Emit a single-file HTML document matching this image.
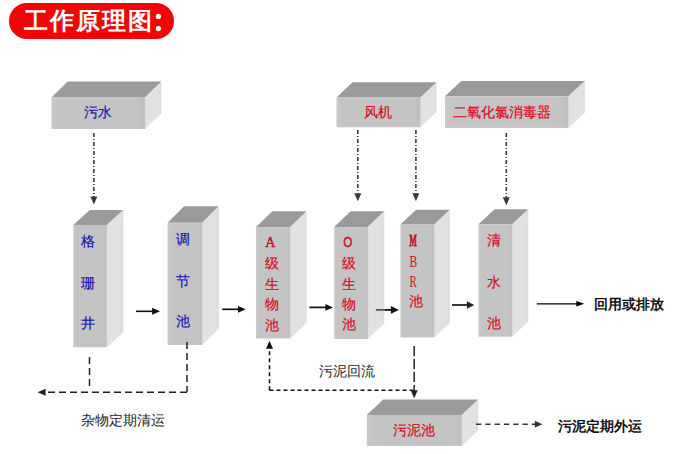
<!DOCTYPE html>
<html><head><meta charset="utf-8"><style>
html,body{margin:0;padding:0;background:#fff;}
body{width:685px;height:454px;overflow:hidden;position:relative;font-family:"Liberation Sans",sans-serif;}
.pill{position:absolute;left:9px;top:3px;width:165px;height:35.5px;border-radius:18px;background:#f00606;}
.pill span{position:absolute;left:14.5px;top:2.8px;font-size:23.5px;letter-spacing:2.1px;font-weight:bold;color:#fff;white-space:nowrap;line-height:30px;}
svg{position:absolute;left:0;top:0;}
</style></head><body>
<div class="pill"><span>工作原理图</span></div>
<svg width="685" height="454" viewBox="0 0 685 454">
<defs>
<linearGradient id="front" x1="0" x2="1" y1="0" y2="0">
<stop offset="0" stop-color="#c8c8c8"/><stop offset="0.1" stop-color="#c4c4c4"/><stop offset="0.9" stop-color="#c4c4c4"/><stop offset="1" stop-color="#bfbfbf"/>
</linearGradient>
<linearGradient id="side" x1="0" x2="1" y1="0" y2="0">
<stop offset="0" stop-color="#dcdcdc"/><stop offset="0.12" stop-color="#e2e2e2"/><stop offset="0.88" stop-color="#e0e0e0"/><stop offset="1" stop-color="#dcdcdc"/>
</linearGradient>
</defs>
<polygon points="51.4,97.4 67.8,81.6 161.4,81.6 145,97.4" fill="#9a9a9a"/>
<polygon points="145,97.4 161.4,81.6 161.4,113.2 145,129" fill="url(#side)"/>
<rect x="51.4" y="97.4" width="93.6" height="31.6" fill="url(#front)"/>
<polygon points="336.5,97.5 352.5,82.3 436.5,82.3 420.5,97.5" fill="#9a9a9a"/>
<polygon points="420.5,97.5 436.5,82.3 436.5,112 420.5,127.2" fill="url(#side)"/>
<rect x="336.5" y="97.5" width="84" height="29.7" fill="url(#front)"/>
<polygon points="445,96.3 461.3,81.1 584.8,81.1 568.5,96.3" fill="#9a9a9a"/>
<polygon points="568.5,96.3 584.8,81.1 584.8,112.7 568.5,127.9" fill="url(#side)"/>
<rect x="445" y="96.3" width="123.5" height="31.6" fill="url(#front)"/>
<polygon points="73.3,225 89.8,210 123.3,210 106.8,225" fill="#9a9a9a"/>
<polygon points="106.8,225 123.3,210 123.3,332.3 106.8,347.3" fill="url(#side)"/>
<rect x="73.3" y="225" width="33.5" height="122.3" fill="url(#front)"/>
<polygon points="167.6,222.8 184.1,206.3 218.8,206.3 202.3,222.8" fill="#9a9a9a"/>
<polygon points="202.3,222.8 218.8,206.3 218.8,328.5 202.3,345" fill="url(#side)"/>
<rect x="167.6" y="222.8" width="34.7" height="122.2" fill="url(#front)"/>
<polygon points="256.1,227.1 272.4,211.3 306.6,211.3 290.3,227.1" fill="#9a9a9a"/>
<polygon points="290.3,227.1 306.6,211.3 306.6,322.7 290.3,338.5" fill="url(#side)"/>
<rect x="256.1" y="227.1" width="34.2" height="111.4" fill="url(#front)"/>
<polygon points="334.2,227.1 350.6,211.3 384.3,211.3 367.9,227.1" fill="#9a9a9a"/>
<polygon points="367.9,227.1 384.3,211.3 384.3,323.2 367.9,339" fill="url(#side)"/>
<rect x="334.2" y="227.1" width="33.7" height="111.9" fill="url(#front)"/>
<polygon points="400.5,224.5 416,209.7 449.9,209.7 434.4,224.5" fill="#9a9a9a"/>
<polygon points="434.4,224.5 449.9,209.7 449.9,322.6 434.4,337.4" fill="url(#side)"/>
<rect x="400.5" y="224.5" width="33.9" height="112.9" fill="url(#front)"/>
<polygon points="478.5,224.3 494.5,209.2 528.3,209.2 512.3,224.3" fill="#9a9a9a"/>
<polygon points="512.3,224.3 528.3,209.2 528.3,321.6 512.3,336.7" fill="url(#side)"/>
<rect x="478.5" y="224.3" width="33.8" height="112.4" fill="url(#front)"/>
<polygon points="366.8,415 383.2,399.4 478.2,399.4 461.8,415" fill="#9a9a9a"/>
<polygon points="461.8,415 478.2,399.4 478.2,430.4 461.8,446" fill="url(#side)"/>
<rect x="366.8" y="415" width="95" height="31" fill="url(#front)"/>
<text x="84" y="117" fill="#1616b0" font-size="14" font-weight="normal" font-family='"Liberation Sans", sans-serif' stroke="#1616b0" stroke-width="0.2">污水</text>
<text x="364" y="117" fill="#d80c22" font-size="14" font-weight="normal" font-family='"Liberation Sans", sans-serif' stroke="#d80c22" stroke-width="0.2">风机</text>
<text x="453" y="117" fill="#d80c22" font-size="13.8" font-weight="normal" font-family='"Liberation Sans", sans-serif' stroke="#d80c22" stroke-width="0.2">二氧化氯消毒器</text>
<text x="81" y="245.5" fill="#1616b0" font-size="14" font-weight="normal" font-family='"Liberation Sans", sans-serif' stroke="#1616b0" stroke-width="0.2">格</text>
<text x="81" y="287.5" fill="#1616b0" font-size="14" font-weight="normal" font-family='"Liberation Sans", sans-serif' stroke="#1616b0" stroke-width="0.2">珊</text>
<text x="81" y="327.5" fill="#1616b0" font-size="14" font-weight="normal" font-family='"Liberation Sans", sans-serif' stroke="#1616b0" stroke-width="0.2">井</text>
<text x="176" y="244" fill="#1616b0" font-size="14" font-weight="normal" font-family='"Liberation Sans", sans-serif' stroke="#1616b0" stroke-width="0.2">调</text>
<text x="176" y="285.5" fill="#1616b0" font-size="14" font-weight="normal" font-family='"Liberation Sans", sans-serif' stroke="#1616b0" stroke-width="0.2">节</text>
<text x="176" y="325.5" fill="#1616b0" font-size="14" font-weight="normal" font-family='"Liberation Sans", sans-serif' stroke="#1616b0" stroke-width="0.2">池</text>
<text x="265" y="267.5" fill="#d80c22" font-size="14" font-weight="normal" font-family='"Liberation Sans", sans-serif' stroke="#d80c22" stroke-width="0.2">级</text>
<text x="265" y="289" fill="#d80c22" font-size="14" font-weight="normal" font-family='"Liberation Sans", sans-serif' stroke="#d80c22" stroke-width="0.2">生</text>
<text x="265" y="309" fill="#d80c22" font-size="14" font-weight="normal" font-family='"Liberation Sans", sans-serif' stroke="#d80c22" stroke-width="0.2">物</text>
<text x="265" y="329.5" fill="#d80c22" font-size="14" font-weight="normal" font-family='"Liberation Sans", sans-serif' stroke="#d80c22" stroke-width="0.2">池</text>
<text transform="translate(265.3,246.8) scale(0.95,1)" fill="#d80c22" font-size="15" font-weight="normal" font-family='"Liberation Serif", serif' stroke="#c01020" stroke-width="0.45">A</text>
<text x="342" y="267.5" fill="#d80c22" font-size="14" font-weight="normal" font-family='"Liberation Sans", sans-serif' stroke="#d80c22" stroke-width="0.2">级</text>
<text x="342" y="289" fill="#d80c22" font-size="14" font-weight="normal" font-family='"Liberation Sans", sans-serif' stroke="#d80c22" stroke-width="0.2">生</text>
<text x="342" y="308.5" fill="#d80c22" font-size="14" font-weight="normal" font-family='"Liberation Sans", sans-serif' stroke="#d80c22" stroke-width="0.2">物</text>
<text x="342" y="328.5" fill="#d80c22" font-size="14" font-weight="normal" font-family='"Liberation Sans", sans-serif' stroke="#d80c22" stroke-width="0.2">池</text>
<text transform="translate(343.2,246.8) scale(0.85,1)" fill="#d80c22" font-size="13.8" font-weight="normal" font-family='"Liberation Sans", sans-serif' stroke="#b01020" stroke-width="0.35">O</text>
<text x="409" y="306" fill="#d80c22" font-size="14" font-weight="normal" font-family='"Liberation Sans", sans-serif' stroke="#d80c22" stroke-width="0.2">池</text>
<text transform="translate(409.6,246.4) scale(0.47,1)" fill="#d80c22" font-size="16.5" font-weight="bold" font-family='"Liberation Serif", serif' stroke="#c01020" stroke-width="0.8">M</text>
<text transform="translate(409.6,266.9) scale(0.7,1)" fill="#d80c22" font-size="16.5" font-weight="normal" font-family='"Liberation Serif", serif'>B</text>
<text transform="translate(409.6,287.4) scale(0.66,1)" fill="#d80c22" font-size="16.5" font-weight="normal" font-family='"Liberation Serif", serif'>R</text>
<text x="487" y="245" fill="#d80c22" font-size="14" font-weight="normal" font-family='"Liberation Sans", sans-serif' stroke="#d80c22" stroke-width="0.2">清</text>
<text x="487" y="286.5" fill="#d80c22" font-size="14" font-weight="normal" font-family='"Liberation Sans", sans-serif' stroke="#d80c22" stroke-width="0.2">水</text>
<text x="487" y="327.5" fill="#d80c22" font-size="14" font-weight="normal" font-family='"Liberation Sans", sans-serif' stroke="#d80c22" stroke-width="0.2">池</text>
<line x1="136" y1="311.3" x2="153.1" y2="311.3" stroke="#111" stroke-width="1.6"/><polygon points="160.1,311.3 152.1,307.8 152.1,314.8" fill="#111"/>
<line x1="222.3" y1="309.3" x2="239.0" y2="309.3" stroke="#111" stroke-width="1.7"/><polygon points="245.7,309.3 238.0,305.90000000000003 238.0,312.7" fill="#111"/>
<line x1="309.3" y1="307.4" x2="326.4" y2="307.4" stroke="#111" stroke-width="1.7"/><polygon points="333,307.4 325.4,304.09999999999997 325.4,310.7" fill="#111"/>
<line x1="375.8" y1="309.9" x2="385" y2="309.9" stroke="#5a5a5a" stroke-width="1.8"/>
<line x1="385" y1="309.9" x2="391.9" y2="309.9" stroke="#111" stroke-width="1.8"/><polygon points="398.9,309.9 390.9,306.09999999999997 390.9,313.7" fill="#111"/>
<line x1="452" y1="305" x2="467.9" y2="305" stroke="#222" stroke-width="1.8"/><polygon points="474.2,305 466.9,301.35 466.9,308.65" fill="#222"/>
<line x1="536.8" y1="303.8" x2="577.3" y2="303.8" stroke="#000" stroke-width="1.2"/><polygon points="584.3,303.8 576.3,301.05 576.3,306.55" fill="#000"/>
<text x="593.8" y="308.8" fill="#111" font-size="13.5" font-weight="bold" font-family='"Liberation Sans", sans-serif' >回用或排放</text>
<line x1="93.9" y1="133" x2="93.9" y2="197.4" stroke="#3a3a3a" stroke-width="1.6" stroke-dasharray="4 2 1 2"/><polygon points="93.9,204.4 90.4,196.4 97.4,196.4" fill="#3a3a3a"/>
<line x1="357.8" y1="130" x2="357.8" y2="194.3" stroke="#3a3a3a" stroke-width="1.6" stroke-dasharray="4 2 1 2"/><polygon points="357.8,201.3 354.3,193.3 361.3,193.3" fill="#3a3a3a"/>
<line x1="415.9" y1="130" x2="415.9" y2="194.3" stroke="#3a3a3a" stroke-width="1.6" stroke-dasharray="4 2 1 2"/><polygon points="415.9,201.3 412.4,193.3 419.4,193.3" fill="#3a3a3a"/>
<line x1="506.3" y1="133" x2="506.3" y2="198.2" stroke="#3a3a3a" stroke-width="1.6" stroke-dasharray="4 2 1 2"/><polygon points="506.3,205.2 502.8,197.2 509.8,197.2" fill="#3a3a3a"/>
<line x1="89.5" y1="357" x2="89.5" y2="387" stroke="#222" stroke-width="1.5" stroke-dasharray="7 4"/>
<line x1="187" y1="342" x2="187" y2="392" stroke="#222" stroke-width="1.5" stroke-dasharray="7 4"/>
<line x1="187" y1="392.3" x2="44.6" y2="392.3" stroke="#222" stroke-width="1.5" stroke-dasharray="7 4"/><polygon points="37.6,392.3 45.6,388.8 45.6,395.8" fill="#222"/>
<text x="81" y="425" fill="#222" font-size="14" font-weight="normal" font-family='"Liberation Sans", sans-serif' >杂物定期清运</text>
<line x1="269.5" y1="390.3" x2="269.5" y2="347.7" stroke="#111" stroke-width="1.5" stroke-dasharray="4 3"/><polygon points="269.5,340.7 266.0,348.7 273.0,348.7" fill="#111"/>
<line x1="269.5" y1="390.3" x2="414.2" y2="390.3" stroke="#111" stroke-width="1.5" stroke-dasharray="4 3"/>
<line x1="414.2" y1="346" x2="414.2" y2="391.3" stroke="#222" stroke-width="1.5" stroke-dasharray="10 3"/><polygon points="414.2,398.3 410.7,390.3 417.7,390.3" fill="#222"/>
<text x="318.5" y="376" fill="#222" font-size="14" font-weight="normal" font-family='"Liberation Sans", sans-serif' >污泥回流</text>
<text x="393" y="435" fill="#d80c22" font-size="14" font-weight="normal" font-family='"Liberation Sans", sans-serif' stroke="#d80c22" stroke-width="0.2">污泥池</text>
<line x1="476" y1="424.2" x2="535.8" y2="424.2" stroke="#333" stroke-width="1.6" stroke-dasharray="5.3 4"/><polygon points="542.3,424.2 534.8,420.7 534.8,427.7" fill="#333"/>
<text x="557.5" y="431" fill="#111" font-size="14" font-weight="bold" font-family='"Liberation Sans", sans-serif' >污泥定期外运</text>
<circle cx="158.4" cy="16.4" r="2.6" fill="#fff"/><circle cx="158.4" cy="28.6" r="2.6" fill="#fff"/>
</svg>
</body></html>
